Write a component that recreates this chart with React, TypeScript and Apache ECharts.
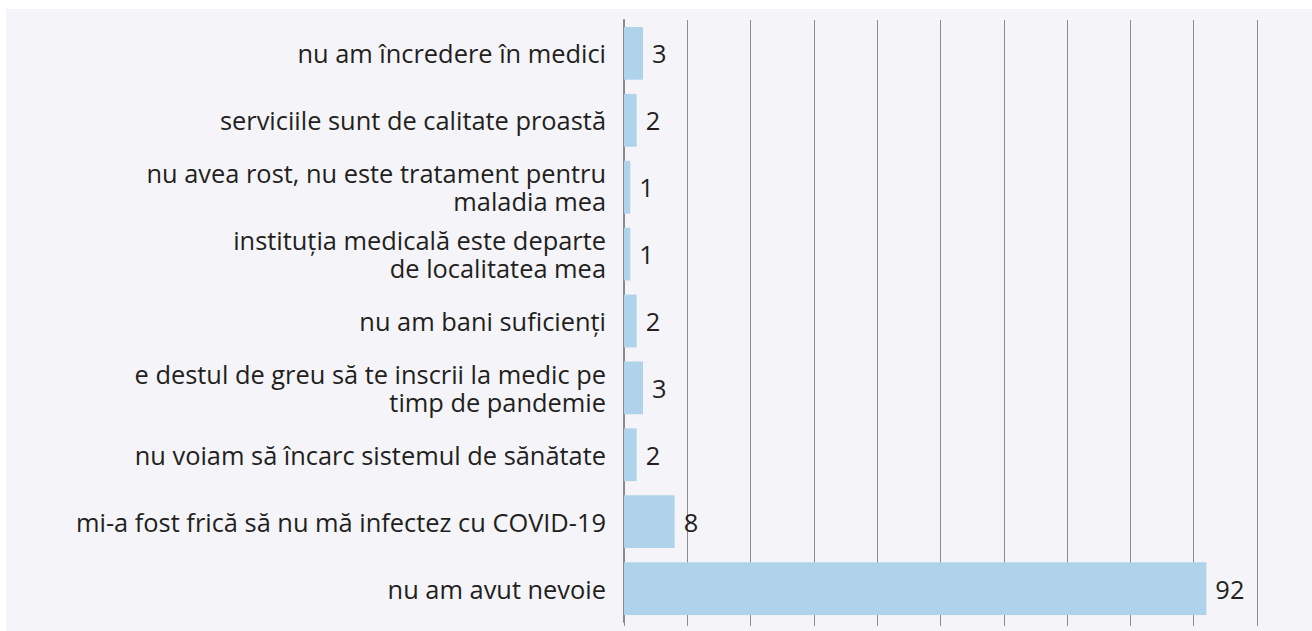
import React, { useEffect, useRef } from "react";
import * as echarts from "echarts";

const categories = [
  "nu am încredere în medici",
  "serviciile sunt de calitate proastă",
  "nu avea rost, nu este tratament pentru\nmaladia mea",
  "instituția medicală este departe\nde localitatea mea",
  "nu am bani suficienți",
  "e destul de greu să te inscrii la medic pe\ntimp de pandemie",
  "nu voiam să încarc sistemul de sănătate",
  "mi-a fost frică să nu mă infectez cu COVID-19",
  "nu am avut nevoie",
];
const values = [3, 2, 1, 1, 2, 3, 2, 8, 92];
const axisMin = 0;
const axisMax = 100;
const axisInterval = 10;

export default function App() {
  const ref = useRef<HTMLDivElement>(null);
  useEffect(() => {
    if (!ref.current) return;
    const chart = echarts.init(ref.current, undefined, { renderer: "svg" });
    const font = "'Open Sans', sans-serif";
    chart.setOption({
      animation: false,
      backgroundColor: "#ffffff",
      graphic: [
        {
          type: "rect",
          z: -10,
          silent: true,
          shape: { x: 6, y: 9, width: 1306, height: 622 },
          style: { fill: "#f5f5f9" },
        },
      ],
      grid: { left: 624, right: 55, top: 20, bottom: 9, containLabel: false },
      xAxis: {
        type: "value",
        min: axisMin,
        max: axisMax,
        interval: axisInterval,
        axisLabel: { show: false },
        axisLine: { show: false },
        axisTick: { show: true, length: 4, lineStyle: { color: "#8c8c8c", width: 1 } },
        splitLine: { show: true, lineStyle: { color: "#8c8c8c", width: 1 } },
      },
      yAxis: {
        type: "category",
        data: categories,
        inverse: true,
        axisLine: { show: true, lineStyle: { color: "#8a8a8a", width: 2 } },
        axisTick: { show: false },
        axisLabel: {
          color: "#231f20",
          fontFamily: font,
          fontSize: 25.4,
          lineHeight: 28,
          margin: 18,
          align: "right",
        },
      },
      series: [
        {
          type: "bar",
          data: values,
          barCategoryGap: "21%",
          itemStyle: { color: "#b0d3ec" },
          label: {
            show: true,
            position: "right",
            distance: 9,
            color: "#231f20",
            fontFamily: font,
            fontSize: 25.4,
          },
        },
      ],
    });
    return () => chart.dispose();
  }, []);
  return (
    <div
      ref={ref}
      style={{ position: "fixed", left: 0, top: 0, width: 1312, height: 631 }}
    />
  );
}
